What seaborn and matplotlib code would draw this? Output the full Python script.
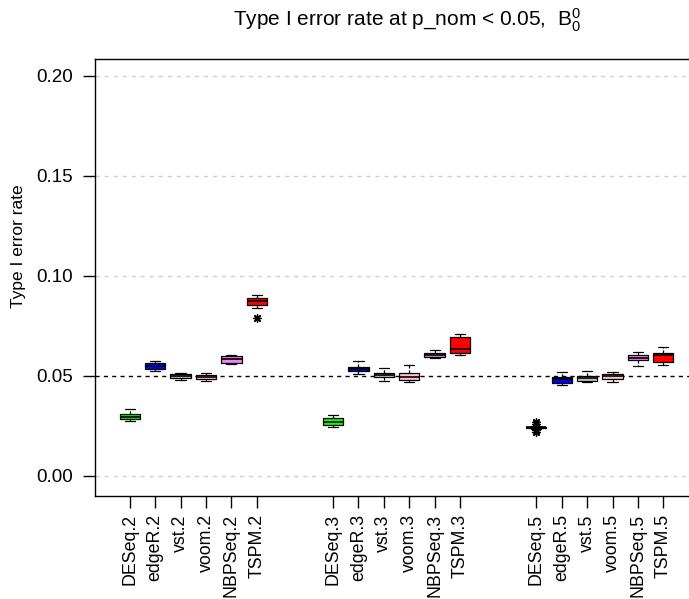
import numpy as np
import pandas as pd
import matplotlib
matplotlib.use("Agg")
import matplotlib.pyplot as plt
import seaborn as sns

# Methods evaluated at each dispersion setting
methods = ["DESeq", "edgeR", "vst", "voom", "NBPSeq", "TSPM"]
groups = ["2", "3", "5"]
method_colors = ["#00FF00", "#0000FF", "#BEBEBE", "#FFC0CB", "#EE82EE", "#FF0000"]

# Box summaries (lower whisker, Q1, median, Q3, upper whisker), one entry per box,
# ordered group by group and method by method
whisker_lo = [0.0273, 0.0527, 0.0482, 0.0475, 0.0562, 0.0841,
              0.0244, 0.0512, 0.0475, 0.0469, 0.0590, 0.0605,
              0.0236, 0.0457, 0.0472, 0.0470, 0.0549, 0.0555]
quart_1 = [0.0283, 0.0537, 0.0490, 0.0485, 0.0567, 0.0856,
           0.0253, 0.0524, 0.0494, 0.0480, 0.0594, 0.0613,
           0.0238, 0.0464, 0.0477, 0.0487, 0.0579, 0.0570]
medians = [0.0294, 0.0549, 0.0500, 0.0494, 0.0584, 0.0873,
           0.0271, 0.0534, 0.0504, 0.0495, 0.0607, 0.0632,
           0.0243, 0.0485, 0.0490, 0.0499, 0.0592, 0.0603]
quart_3 = [0.0308, 0.0565, 0.0510, 0.0504, 0.0599, 0.0891,
           0.0288, 0.0547, 0.0517, 0.0517, 0.0617, 0.0692,
           0.0247, 0.0497, 0.0502, 0.0509, 0.0607, 0.0615]
whisker_hi = [0.0333, 0.0577, 0.0517, 0.0517, 0.0607, 0.0904,
              0.0306, 0.0575, 0.0540, 0.0555, 0.0630, 0.0710,
              0.0250, 0.0519, 0.0525, 0.0519, 0.0620, 0.0645]

# Outlying replicates: (box label, value)
outlier_labels = ["TSPM.2", "DESeq.5", "DESeq.5", "DESeq.5", "DESeq.5"]
outlier_values = [0.0787, 0.0272, 0.0260, 0.0230, 0.0220]

y_ticks = [0.00, 0.05, 0.10, 0.15, 0.20]

# ---- assemble long-form data -------------------------------------------------
labels, positions, palette = [], [], {}
for g, grp in enumerate(groups):
    for m, meth in enumerate(methods):
        lab = f"{meth}.{grp}"
        labels.append(lab)
        positions.append(g * 8 + m + 1)
        palette[lab] = method_colors[m]
pos_of = dict(zip(labels, positions))

rows = []
for k, lab in enumerate(labels):
    for v in (whisker_lo[k], quart_1[k], medians[k], quart_3[k], whisker_hi[k]):
        rows.append({"label": lab, "pos": positions[k], "rate": v})
df = pd.DataFrame(rows)
out_df = pd.DataFrame({"pos": [pos_of[l] for l in outlier_labels],
                       "rate": outlier_values})

# ---- figure ------------------------------------------------------------------
sns.set_style("white")
plt.rcParams["font.family"] = ["Liberation Sans", "DejaVu Sans"]
plt.rcParams["mathtext.fontset"] = "custom"
plt.rcParams["mathtext.rm"] = "Liberation Sans"
plt.rcParams["mathtext.it"] = "Liberation Sans"
for key in ("text.color", "axes.labelcolor", "xtick.color", "ytick.color",
            "axes.edgecolor"):
    plt.rcParams[key] = "black"

W, H = 689, 599
fig = plt.figure(figsize=(W / 100, H / 100), dpi=100)
ax = fig.add_axes([94.7 / W, 1 - 496 / H, (698.4 - 94.7) / W, (496 - 59.3) / H])

# reference lines behind the boxes
for t in y_ticks:
    if t != 0.05:
        ax.axhline(t, color="#CFCFCF", linestyle=(0, (3, 3.5)), linewidth=1, zorder=0)
ax.axhline(0.05, color="black", linestyle=(0, (3, 3)), linewidth=1, zorder=0.5)

sns.boxplot(data=df, x="pos", y="rate", hue="label", palette=palette,
            saturation=1, native_scale=True, dodge=False, width=0.8,
            whis=(0, 100), showfliers=False, linecolor="black", linewidth=0.9,
            legend=False,
            medianprops={"linewidth": 1.2, "color": "black"},
            whiskerprops={"linestyle": (0, (2.5, 1.5)), "linewidth": 0.9},
            ax=ax)

sns.scatterplot(data=out_df, x="pos", y="rate", marker=(8, 2, 0), s=28,
                color="black", edgecolor="black", linewidth=1.0, ax=ax,
                zorder=5, legend=False)

ax.set_xlim(-0.38, 23.38)
ax.set_ylim(-0.0100, 0.2082)
ax.set_xticks(positions)
ax.set_xticklabels(labels, rotation=90, fontsize=12.8)
ax.set_yticks(y_ticks)
ax.set_yticklabels([f"{t:.2f}" for t in y_ticks], fontsize=13.5)
ax.tick_params(axis="both", direction="out", length=8.8, width=1, color="black",
               bottom=True, left=True)
ax.tick_params(axis="x", pad=4.3)
ax.tick_params(axis="y", pad=7)
for sp in ax.spines.values():
    sp.set_visible(True)
    sp.set_color("black")
    sp.set_linewidth(1)

ax.set_xlabel("")
ax.set_ylabel("Type I error rate", fontsize=12.5)
ax.yaxis.set_label_coords(-0.1146, 0.5725)
ax.set_title(r"Type I error rate at p_nom < 0.05,  $\mathregular{B_0^0}$",
             fontsize=15, pad=24, x=0.5 + 10 / 603.7)

fig.savefig("out.png", dpi=100)
